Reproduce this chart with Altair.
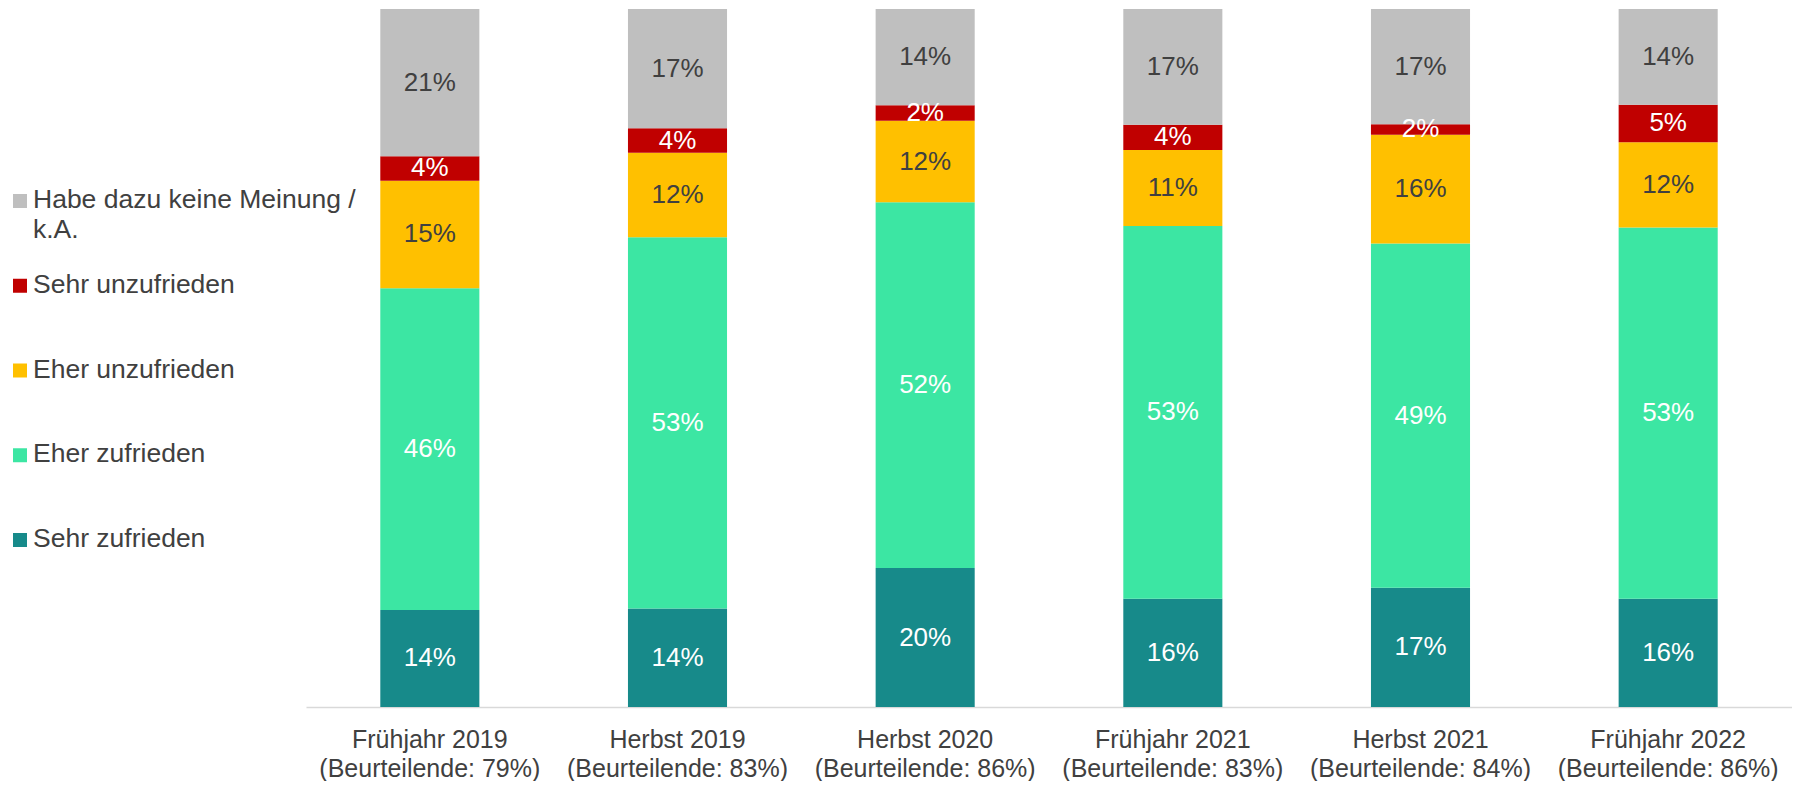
import altair as alt
import pandas as pd

periods = ["Frühjahr 2019", "Herbst 2019", "Herbst 2020", "Frühjahr 2021", "Herbst 2021", "Frühjahr 2022"]
beurteilende = ["79%", "83%", "86%", "83%", "84%", "86%"]
categories = ["Sehr zufrieden", "Eher zufrieden", "Eher unzufrieden", "Sehr unzufrieden",
              "Habe dazu keine Meinung / k.A."]
colors = ["#178A8A", "#3CE6A3", "#FFC000", "#C00000", "#BFBFBF"]

# shares in percent (labels show them rounded)
sehr_zufrieden = [13.9, 14.1, 19.9, 15.5, 17.1, 15.5]
eher_zufrieden = [46.1, 53.2, 52.4, 53.4, 49.3, 53.2]
eher_unzufrieden = [15.4, 12.1, 11.7, 10.9, 15.6, 12.2]
sehr_unzufrieden = [3.5, 3.5, 2.2, 3.6, 1.5, 5.4]
keine_meinung = [21.1, 17.1, 13.8, 16.6, 16.5, 13.7]

series = [sehr_zufrieden, eher_zufrieden, eher_unzufrieden, sehr_unzufrieden, keine_meinung]
period_labels = [f"{p}\n(Beurteilende: {b})" for p, b in zip(periods, beurteilende)]

rows = []
for i, pl in enumerate(period_labels):
    for k, cat in enumerate(categories):
        rows.append({"period": pl, "cat": cat, "idx": k, "value": series[k][i]})
df = pd.DataFrame(rows)

FONT = "Liberation Sans"
TXT = "#404040"

base = (
    alt.Chart(df)
    .transform_joinaggregate(total="sum(value)", groupby=["period"])
    .transform_calculate(frac="datum.value / datum.total", lbl="round(datum.value) + '%'")
    .transform_stack(stack="frac", groupby=["period"], as_=["y0", "y1"],
                     sort=[alt.SortField("idx", order="ascending")])
    .transform_calculate(ymid="(datum.y0 + datum.y1) / 2")
)

xenc = alt.X(
    "period:N", sort=period_labels,
    scale=alt.Scale(paddingInner=0.6, paddingOuter=0.3),
    axis=alt.Axis(title=None, labelExpr="split(datum.label, '\\n')", labelAngle=0,
                  labelFontSize=25, labelColor=TXT, labelFont=FONT, labelLineHeight=29,
                  labelPadding=20, ticks=False, domainColor="#D9D9D9", domainWidth=1.5,
                  labelLimit=0, grid=False),
)
color_scale = alt.Scale(domain=categories, range=colors)
yscale = alt.Scale(domain=[0, 1])

bars = base.mark_bar().encode(
    x=xenc,
    y=alt.Y("y0:Q", scale=yscale, axis=None),
    y2="y1:Q",
    color=alt.Color("cat:N", scale=color_scale, legend=None),
)
labels = base.mark_text(font=FONT, fontSize=26, baseline="middle").encode(
    x=alt.X("period:N", sort=period_labels),
    y=alt.Y("ymid:Q", scale=yscale, axis=None),
    text="lbl:N",
    color=alt.condition(
        "datum.cat == 'Eher unzufrieden' || datum.cat == 'Habe dazu keine Meinung / k.A.'",
        alt.value(TXT), alt.value("white")),
)

legend_order = categories[::-1]
leg_df = pd.DataFrame({"cat": legend_order})
ly = alt.Y("cat:N", scale=alt.Scale(type="point", domain=legend_order, range=[192, 531], padding=0),
           axis=None)
leg_sq = alt.Chart(leg_df).mark_square(size=196, opacity=1).encode(
    y=ly, x=alt.value(-286),
    color=alt.Color("cat:N", scale=color_scale, legend=None),
)
leg_txt = (
    alt.Chart(leg_df)
    .transform_calculate(lines="datum.cat == 'Habe dazu keine Meinung / k.A.' ? ['Habe dazu keine Meinung /', 'k.A.'] : datum.cat")
    .mark_text(align="left", baseline="alphabetic", dy=7, font=FONT, fontSize=26.5,
               lineHeight=30, color=TXT)
    .encode(y=ly, x=alt.value(-273), text="lines:N")
)

chart = (
    alt.layer(bars, labels, leg_sq, leg_txt)
    .resolve_scale(y="independent")
    .properties(width=1486, height=698,
                padding={"left": 5, "top": 0, "right": 0, "bottom": 0})
    .configure_view(stroke=None)
)

chart.save("out.html", embed_options={"renderer": "svg", "actions": False})
